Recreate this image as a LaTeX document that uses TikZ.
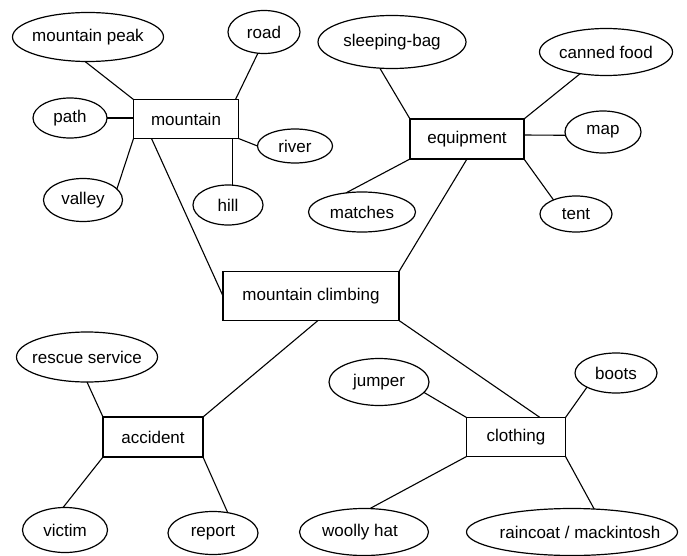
\documentclass[tikz,border=0pt]{standalone}
\usepackage{fontspec}
\setmainfont{Liberation Sans}
\usetikzlibrary{shapes.geometric,calc}
\newcommand\ztext[1]{\makebox[0pt][c]{#1}}
\tikzset{
  conc/.style={draw, line width=1.2pt, ellipse, inner sep=0pt, outer sep=0pt},
  topic/.style={draw, line width=1.2pt, rectangle, inner sep=0pt, outer sep=0pt},
  link/.style={line width=1.1pt},
}
\begin{document}
\begin{tikzpicture}[x=1pt,y=-1pt,font=\fontsize{17}{19}\selectfont]
\useasboundingbox (0,0) rectangle (687,556);
% mountain cluster
\node[topic, minimum width=105pt, minimum height=39pt] (mountain) at (186,119) {mountain};
\node[conc, minimum width=151pt, minimum height=49pt] (mpeak) at (88,37) {\ztext{mountain peak}};
\node[conc, minimum width=72pt, minimum height=43pt] (road) at (264,32) {\ztext{road}};
\node[conc, minimum width=74pt, minimum height=40pt] (path) at (70,118) {\ztext{path}};
\node[conc, minimum width=75pt, minimum height=34pt] (river) at (295,146) {\ztext{river}};
\node[conc, minimum width=79pt, minimum height=43pt] (valley) at (83,200) {\ztext{valley}};
\node[conc, minimum width=70pt, minimum height=40pt] (hill) at (228,205) {\ztext{hill}};
% equipment cluster
\node[topic, minimum width=114pt, minimum height=40pt] (equip) at (467,139) {equipment};
\node[conc, minimum width=148pt, minimum height=53pt] (sbag) at (392,42) {\ztext{sleeping-bag}};
\node[conc, minimum width=133pt, minimum height=47pt] (canned) at (606,52) {\ztext{canned food}};
\node[conc, minimum width=76pt, minimum height=42pt] (map) at (603,132) {\ztext{map}};
\node[conc, minimum width=107pt, minimum height=40pt] (matches) at (362,212) {\ztext{matches}};
\node[conc, minimum width=72pt, minimum height=36pt] (tent) at (576,214) {\ztext{tent}};
% centre
\node[topic, minimum width=176pt, minimum height=49pt] (mc) at (311,296) {mountain climbing};
% accident cluster
\node[topic, minimum width=100pt, minimum height=40pt] (accident) at (153,437) {accident};
\node[conc, minimum width=141pt, minimum height=50pt] (rescue) at (87,357) {\ztext{rescue service}};
\node[conc, minimum width=85pt, minimum height=45pt] (victim) at (65,530) {\ztext{victim}};
\node[conc, minimum width=90pt, minimum height=43pt] (report) at (213,533) {\ztext{report}};
% clothing cluster
\node[topic, minimum width=99pt, minimum height=39pt] (clothing) at (516,437) {clothing};
\node[conc, minimum width=100pt, minimum height=47pt] (jumper) at (379,382) {\ztext{jumper}};
\node[conc, minimum width=82pt, minimum height=40pt] (boots) at (616,373) {\ztext{boots}};
\node[conc, minimum width=129pt, minimum height=47pt] (woolly) at (364,532) {\ztext{woolly hat\hspace*{8pt}}};
\node[conc, minimum width=211pt, minimum height=47pt] (raincoat) at (572,532) {\ztext{\hspace*{16pt}raincoat / mackintosh}};
% connectors
\draw[link] (mpeak.-97) -- (mountain.north west);
\draw[link] (road.-106) -- ($(mountain.north east)+(-3,0)$);
\draw[link] (path.east) -- (path.east -| mountain.west);
\draw[link] (valley.18) -- (mountain.south west);
\draw[link] (mountain.south east) -- (river.west);
\draw[link] (hill.76) -- (hill.76 |- mountain.south);
\draw[link] ($(mountain.south west)+(18,0)$) -- (mc.west);
\draw[link] (sbag.-115) -- (equip.north west);
\draw[link] (canned.-140) -- (equip.north east);
\draw[link] ($(equip.east)+(0,-4)$) -- (map.185);
\draw[link] (matches.130) -- (equip.south west);
\draw[link] (tent.148) -- (equip.south east);
\draw[link] (equip.south) -- (mc.north east);
\draw[link] (rescue.south) -- (accident.north west);
\draw[link] (accident.north east) -- ($(mc.south)+(7,0)$);
\draw[link] (accident.south west) -- (victim.95);
\draw[link] (accident.south east) -- (report.54);
\draw[link] (jumper.-13) -- (clothing.north west);
\draw[link] (mc.south east) -- ($(clothing.north)+(24,0)$);
\draw[link] (boots.-154) -- (clothing.north east);
\draw[link] (clothing.south west) -- (woolly.76);
\draw[link] (clothing.south east) -- (raincoat.46);
\end{tikzpicture}
\end{document}
